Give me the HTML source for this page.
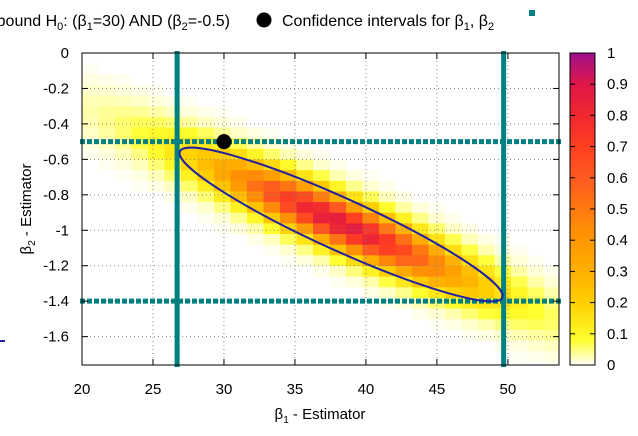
<!DOCTYPE html>
<html><head><meta charset="utf-8"><style>
body{margin:0;background:#fff;font-family:"Liberation Sans",sans-serif}
svg text{font-family:"Liberation Sans",sans-serif;fill:#000}
</style></head><body>
<svg id="c" width="638" height="431" viewBox="0 0 638 431" xmlns="http://www.w3.org/2000/svg">
<g id="heat"></g>
<g id="grid"></g>
<g id="marks"></g>
<g id="axes"></g>
<g id="legend">
<text x="230" y="26" font-size="16" text-anchor="end">bound H<tspan font-size="11" dy="4">0</tspan><tspan dy="-4">: (β</tspan><tspan font-size="11" dy="4">1</tspan><tspan dy="-4">=30) AND (β</tspan><tspan font-size="11" dy="4">2</tspan><tspan dy="-4">=-0.5)</tspan></text>
<circle cx="264" cy="20" r="7.5" fill="#000"/>
<text x="282" y="26" font-size="16">Confidence intervals for β<tspan font-size="11" dy="4">1</tspan><tspan dy="-4">, β</tspan><tspan font-size="11" dy="4">2</tspan></text>
<rect x="529" y="10" width="6" height="6" fill="#008080"/>
<rect x="0" y="340" width="5" height="2" fill="#2020a0"/>
</g>
</svg>
<script>
const xTicks=[20,25,30,35,40,45,50];
const yTicks=[0,-0.2,-0.4,-0.6,-0.8,-1,-1.2,-1.4,-1.6];
const cbTicks=[0,0.1,0.2,0.3,0.4,0.5,0.6,0.7,0.8,0.9,1];
const h0Point=[30,-0.5];
const ciB1=[26.7,49.7];
const ciB2=[-0.5,-1.4];
const densCenter=[38.2,-0.96];
const densPeak=[0.88];
const ellipseEnds=[[26.9,-0.555],[49.6,-1.38]];
const ellipseHalfWidthPx=[26];
const palStops=[0,0.08,0.2,0.3,0.4,0.5,0.6,0.7,0.8,0.9,1];
const palCols=['#ffffff','#ffff30','#ffd000','#ffb000','#ff9800','#ff7a10','#ff5a20','#ff4020','#f02830','#e01848','#a0108a'];
const X0=82,X1=559,Y0=53,Y1=365;
const xmin=20,xmax=53.6,ymin=-1.76,ymax=0;
const sx=v=>X0+(v-xmin)/(xmax-xmin)*(X1-X0);
const sy=v=>Y0+(ymax-v)/(ymax-ymin)*(Y1-Y0);
const NS='http://www.w3.org/2000/svg';
function mk(p,t,a){const e=document.createElementNS(NS,t);for(const k in a)e.setAttribute(k,a[k]);p.appendChild(e);return e;}
function hex(h){return [1,3,5].map(i=>parseInt(h.substr(i,2),16));}
function pal(v){v=Math.max(0,Math.min(1,v));for(let i=1;i<palStops.length;i++){if(v<=palStops[i]){const t=(v-palStops[i-1])/(palStops[i]-palStops[i-1]);const a=hex(palCols[i-1]),b=hex(palCols[i]);return 'rgb('+a.map((x,j)=>Math.round(x+(b[j]-x)*t)).join(',')+')';}}return palCols[palCols.length-1];}
// heatmap
const heat=document.getElementById('heat');
const cx=sx(densCenter[0]),cy=sy(densCenter[1]);
const ang=Math.atan2(sy(ellipseEnds[1][1])-sy(ellipseEnds[0][1]),sx(ellipseEnds[1][0])-sx(ellipseEnds[0][0]));
const ca=Math.cos(ang),sa=Math.sin(ang);
const cw=16.5,chh=10.65;
for(let px=X0;px<X1;px+=cw){for(let py=Y0;py<Y1;py+=chh){
 const mx=px+cw/2-cx,my=py+chh/2-cy;
 const u=mx*ca+my*sa,w=-mx*sa+my*ca;
 const d=densPeak[0]*(0.88*Math.exp(-0.5*((u/88)**2+(w/15)**2))+0.12*Math.exp(-0.5*((u/165)**2+(w/22)**2)));
 if(d<0.004)continue;
 const r=mk(heat,'rect',{x:px,y:py,width:Math.min(cw,X1-px)+0.3,height:Math.min(chh,Y1-py)+0.3,fill:pal(d)});
 
 
}}
// grid
const grid=document.getElementById('grid');
xTicks.slice(1).forEach(t=>{const l=mk(grid,'line',{x1:sx(t),x2:sx(t),y1:Y0,y2:Y1,stroke:'#888','stroke-dasharray':'1,3','stroke-width':1});});
yTicks.forEach(t=>{const l=mk(grid,'line',{x1:X0,x2:X1,y1:sy(t),y2:sy(t),stroke:'#888','stroke-dasharray':'1,3','stroke-width':1});});
// marks
const marks=document.getElementById('marks');
ciB2.forEach(v=>{const l=mk(marks,'line',{x1:X0-2,x2:562,y1:sy(v),y2:sy(v),stroke:'#008080','stroke-width':5,'stroke-dasharray':'5,2'});});
ciB1.forEach(v=>{const l=mk(marks,'line',{x1:sx(v),x2:sx(v),y1:Y0-2,y2:Y1+2,stroke:'#008080','stroke-width':5});});
const ex=(sx(ellipseEnds[0][0])+sx(ellipseEnds[1][0]))/2,ey=(sy(ellipseEnds[0][1])+sy(ellipseEnds[1][1]))/2;
const erx=Math.hypot(sx(ellipseEnds[1][0])-sx(ellipseEnds[0][0]),sy(ellipseEnds[1][1])-sy(ellipseEnds[0][1]))/2;
const el=mk(marks,'ellipse',{cx:ex,cy:ey,rx:erx,ry:ellipseHalfWidthPx[0],fill:'none',stroke:'#2020a0','stroke-width':2,transform:'rotate('+(ang*180/Math.PI)+' '+ex+' '+ey+')'});


const pt=mk(marks,'circle',{cx:sx(h0Point[0]),cy:sy(h0Point[1]),r:7.5,fill:'#000'});


// axes
const axes=document.getElementById('axes');
const fr=mk(axes,'rect',{x:X0,y:Y0,width:X1-X0,height:Y1-Y0,fill:'none',stroke:'#000','stroke-width':1});


xTicks.forEach(t=>{const x=sx(t);mk(axes,'line',{x1:x,x2:x,y1:Y1,y2:Y1-6,stroke:'#000'});mk(axes,'line',{x1:x,x2:x,y1:Y0,y2:Y0+6,stroke:'#000'});
 const tx=mk(axes,'text',{x:x,y:Y1+29,'font-size':15,'text-anchor':'middle'});tx.textContent=t;});
yTicks.forEach(t=>{const y=sy(t);mk(axes,'line',{x1:X0,x2:X0+6,y1:y,y2:y,stroke:'#000'});mk(axes,'line',{x1:X1,x2:X1-6,y1:y,y2:y,stroke:'#000'});
 const tx=mk(axes,'text',{x:X0-13,y:y+5,'font-size':15,'text-anchor':'end'});tx.textContent=t;});
const xt=mk(axes,'text',{x:320,y:419,'font-size':15,'text-anchor':'middle'});
xt.innerHTML='β<tspan font-size="10" dy="4">1</tspan><tspan dy="-4"> - Estimator</tspan>';


const yt=mk(axes,'text',{x:0,y:0,'font-size':15,'text-anchor':'middle',transform:'translate(31,209) rotate(-90)'});
yt.innerHTML='β<tspan font-size="10" dy="4">2</tspan><tspan dy="-4"> - Estimator</tspan>';


// colorbar
const CB0=570,CB1=595;
const cbg=mk(axes,'g',{});


for(let i=0;i<200;i++){const v=i/200;mk(cbg,'rect',{x:CB0,y:Y1-(i+1)*(Y1-Y0)/200,width:CB1-CB0,height:(Y1-Y0)/200+0.5,fill:pal(v+0.0025)});}
mk(cbg,'rect',{x:CB0,y:Y0,width:CB1-CB0,height:Y1-Y0,fill:'none',stroke:'#000'});
cbTicks.forEach(t=>{const y=Y1-t*(Y1-Y0);mk(cbg,'line',{x1:CB0,x2:CB0+5,y1:y,y2:y,stroke:'#000'});mk(cbg,'line',{x1:CB1,x2:CB1-5,y1:y,y2:y,stroke:'#000'});
 const tx=mk(cbg,'text',{x:607,y:y+5,'font-size':15});tx.textContent=t;});
</script>
</body></html>
